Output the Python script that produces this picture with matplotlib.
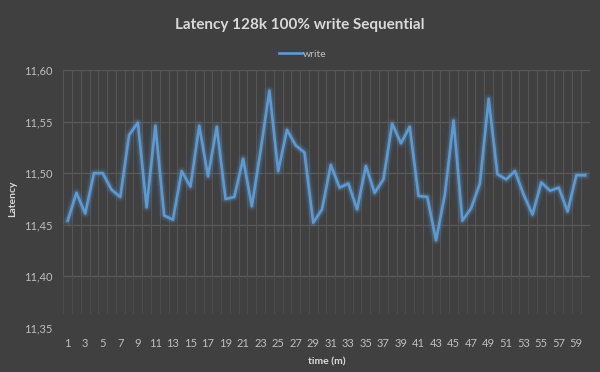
import matplotlib
matplotlib.use("Agg")
import matplotlib.pyplot as plt
import numpy as np

time_m = list(range(1, 61))
write = [11.454, 11.481, 11.461, 11.500, 11.500, 11.484, 11.477, 11.537, 11.549, 11.467,
         11.546, 11.459, 11.455, 11.502, 11.487, 11.546, 11.497, 11.545, 11.475, 11.477,
         11.514, 11.468, 11.522, 11.580, 11.502, 11.542, 11.527, 11.520, 11.452, 11.465,
         11.508, 11.486, 11.490, 11.465, 11.507, 11.481, 11.494, 11.548, 11.529, 11.545,
         11.478, 11.477, 11.435, 11.479, 11.551, 11.454, 11.466, 11.490, 11.572, 11.499,
         11.494, 11.502, 11.479, 11.460, 11.491, 11.483, 11.486, 11.463, 11.498, 11.498]
y_ticks = [11.35, 11.40, 11.45, 11.50, 11.55, 11.60]
y_tick_labels = ["11,35", "11,40", "11,45", "11,50", "11,55", "11,60"]
x_tick_labels = [str(v) for v in range(1, 61, 2)]
title = "Latency 128k 100% write Sequential"

plt.rcParams['font.family'] = ['Lato', 'DejaVu Sans']
bg = "#404040"
fig = plt.figure(figsize=(6, 3.72), dpi=100, facecolor=bg)
ax = fig.add_axes([0.1055, 0.1183, 0.877, 0.6935], facecolor=bg)

ax.set_xlim(0.5, 60.5)
ax.set_ylim(11.35, 11.60)

# grid
for yv in y_ticks[1:]:
    ax.axhline(yv, color="#5a5a5a", lw=0.9, zorder=1)
for xb in np.arange(0.5, 61, 1.0):
    ax.plot([xb, xb], [11.40, 11.60], color="#575757", lw=0.7, zorder=1)
    ax.plot([xb, xb], [11.365, 11.40], color="#4d4d4d", lw=0.7, zorder=1)

# glow + line
for lw, a in [(7, 0.08), (5, 0.12), (3.6, 0.18)]:
    ax.plot(time_m, write, color="#5b9bd5", lw=lw, alpha=a, solid_joinstyle="round", zorder=2)
line, = ax.plot(time_m, write, color="#5b9bd5", lw=1.9, solid_joinstyle="round", zorder=3, label="write")

for s in ax.spines.values():
    s.set_visible(False)

ax.set_yticks(y_ticks)
ax.set_yticklabels(y_tick_labels)
ax.set_xticks(list(range(1, 61, 2)))
ax.set_xticklabels(x_tick_labels)
ax.tick_params(axis="both", length=0, colors="#bfbfbf", labelsize=8)
ax.tick_params(axis="y", pad=8)
ax.tick_params(axis="x", pad=7)

ax.set_xlabel("time (m)", color="#d9d9d9", fontsize=7.5, fontweight="bold", labelpad=6)
ax.set_ylabel("Latency", color="#d9d9d9", fontsize=7.5, fontweight="bold", labelpad=5)

fig.text(0.5, 0.932, title, ha="center", va="center", color="#d9d9d9", fontsize=11, fontweight="bold")
fig.legend(handles=[line], labels=["write"], loc="center", bbox_to_anchor=(0.505, 0.855),
           frameon=False, fontsize=7.5, labelcolor="#bfbfbf", handlelength=2.2, handletextpad=0.1)

fig.savefig("out.png", dpi=100, facecolor=bg)
